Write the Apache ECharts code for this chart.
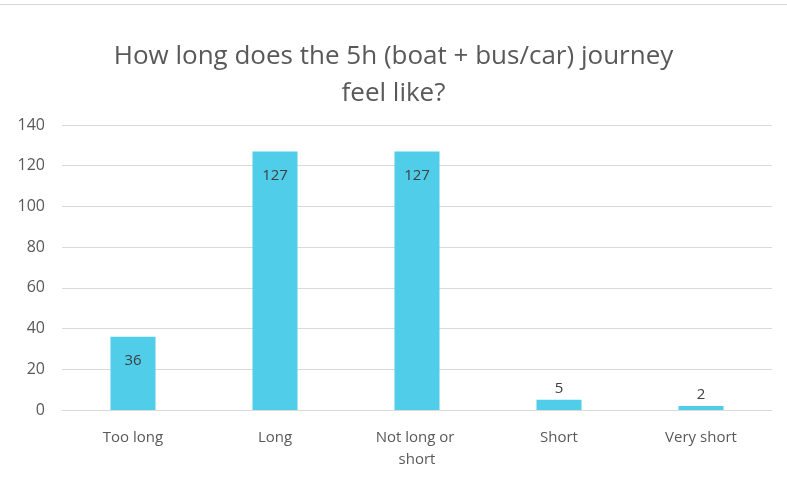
<!DOCTYPE html>
<html>
<head>
<meta charset="utf-8">
<script src="https://cdn.jsdelivr.net/npm/echarts@6/dist/echarts.min.js"></script>
<style>
  html, body { margin: 0; padding: 0; background: #fff; overflow: hidden; }
  #chart { width: 787px; height: 477px; border-top: 1px solid #d9d9d9; margin-top: 4px; }
</style>
</head>
<body>
<div id="chart"></div>
<script>
var titleText = 'How long does the 5h (boat + bus/car) journey\nfeel like?';
var categories = ['Too long', 'Long', 'Not long or short', 'Short', 'Very short'];
var counts = [36, 127, 127, 5, 2];
var yTicks = { min: 0, max: 140, interval: 20 };

var chart = echarts.init(document.getElementById('chart'));

// small bars get their label above, tall ones inside the top
var barData = counts.map(function (v) {
  return {
    value: v,
    label: v < 15 ? { position: 'top', distance: 4 } : { position: 'insideTop', distance: 17 }
  };
});

var option = {
  animation: false,
  textStyle: { fontFamily: 'Open Sans' },
  title: {
    text: titleText,
    left: 'center',
    top: 28,
    textStyle: { fontSize: 26, fontWeight: 'normal', color: '#595959', lineHeight: 37, fontFamily: 'Open Sans' }
  },
  grid: { left: 62, right: 15, top: 120, bottom: 72, containLabel: false },
  xAxis: {
    type: 'category',
    data: categories,
    axisLine: { lineStyle: { color: '#d9d9d9' } },
    axisTick: { show: false },
    axisLabel: {
      color: '#595959', fontSize: 15, margin: 17, lineHeight: 22,
      width: 105, overflow: 'break', interval: 0
    }
  },
  yAxis: {
    type: 'value',
    min: yTicks.min,
    max: yTicks.max,
    interval: yTicks.interval,
    axisLine: { show: false },
    axisTick: { show: false },
    axisLabel: { color: '#595959', fontSize: 16, margin: 17 },
    splitLine: { lineStyle: { color: '#d9d9d9' } }
  },
  series: [{
    type: 'bar',
    data: barData,
    barWidth: 45,
    itemStyle: { color: '#4fcde9' },
    label: { show: true, color: '#404040', fontSize: 15 }
  }]
};

chart.setOption(option);
</script>
</body>
</html>
